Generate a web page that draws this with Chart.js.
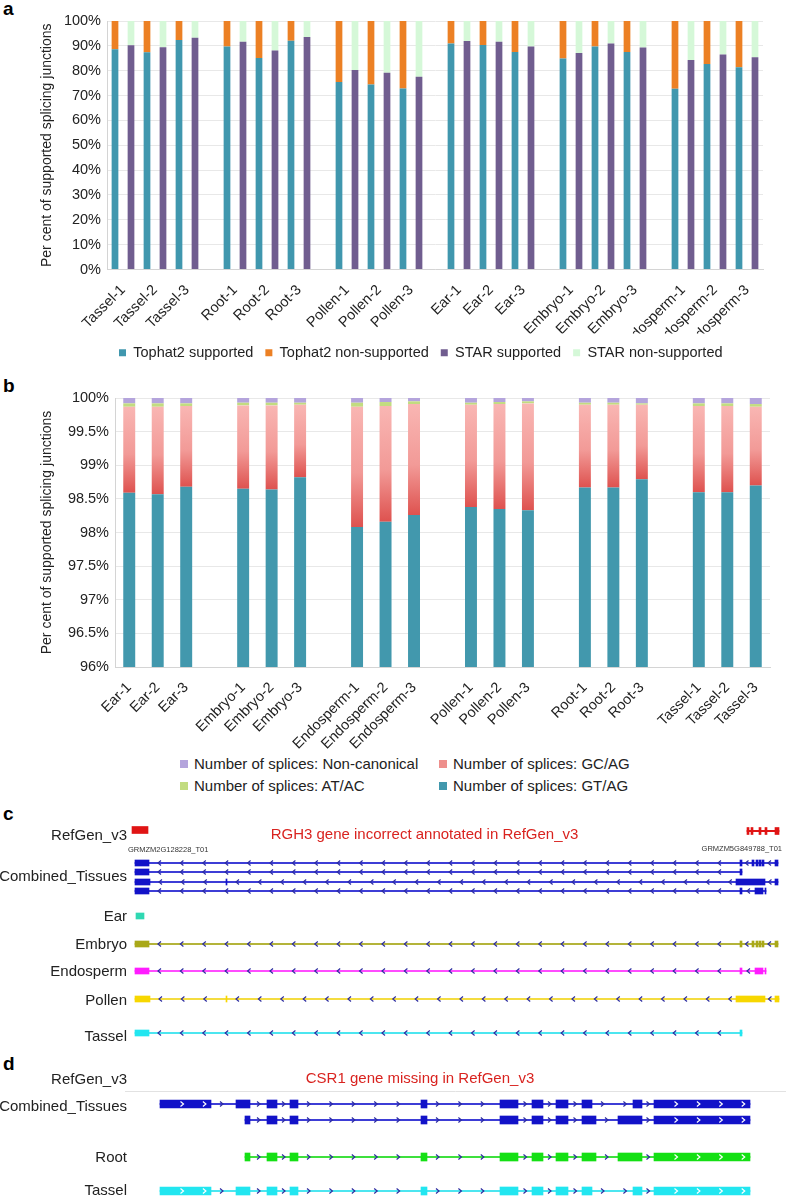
<!DOCTYPE html>
<html><head><meta charset="utf-8">
<script src="https://cdn.jsdelivr.net/npm/chart.js@4.4.1/dist/chart.umd.min.js"></script>
<style>
html,body{margin:0;padding:0;background:#fff;}
body{width:786px;height:1199px;position:relative;overflow:hidden;font-family:"Liberation Sans",Arial,Helvetica,sans-serif;}
.cv{position:absolute;left:0;}
.plabel{position:absolute;left:3px;font-weight:bold;font-size:19px;line-height:19px;color:#000;}
.legitem{position:absolute;font-size:15px;line-height:18px;color:#222;white-space:nowrap;}
.legmark{position:absolute;width:8px;height:8px;}
</style></head>
<body>
<div class="plabel" style="top:-1px">a</div>
<div class="plabel" style="top:376px">b</div>
<div class="plabel" style="top:804px">c</div>
<div class="plabel" style="top:1054px">d</div>
<div class="cv" style="top:0;width:786px;height:372px"><canvas id="chartA"></canvas></div>
<div class="cv" style="top:370px;width:786px;height:380px"><canvas id="chartB"></canvas></div>
<div id="legendB"></div>
<div class="cv" style="top:800px;width:786px;height:260px"><canvas id="chartC"></canvas></div>
<div class="cv" style="top:1040px;width:786px;height:180px"><canvas id="chartD"></canvas></div>
<script>
Chart.defaults.font.family = "'Liberation Sans', Arial, Helvetica, sans-serif";
Chart.defaults.color = '#222';
Chart.defaults.animation = false;
Chart.defaults.responsive = true;
Chart.defaults.maintainAspectRatio = false;

// ================= Panel a data =================
const sampleLabelsA = ['Tassel-1','Tassel-2','Tassel-3','Root-1','Root-2','Root-3','Pollen-1','Pollen-2','Pollen-3','Ear-1','Ear-2','Ear-3','Embryo-1','Embryo-2','Embryo-3','Endosperm-1','Endosperm-2','Endosperm-3'];
const tophatSupported    = [88.6,87.4,92.4, 89.7,85.1,92.1, 75.5,74.4,72.8, 90.9,90.3,87.5, 84.9,89.7,87.5, 72.7,82.7,81.4];
const tophatNonSupported = [11.4,12.6,7.6, 10.3,14.9,7.9, 24.5,25.6,27.2, 9.1,9.7,12.5, 15.1,10.3,12.5, 27.3,17.3,18.6];
const starSupported      = [90.2,89.4,93.3, 91.6,88.1,93.6, 80.3,79.2,77.6, 92.0,91.7,89.7, 87.1,90.9,89.3, 84.3,86.5,85.4];
const starNonSupported   = [9.8,10.6,6.7, 8.4,11.9,6.4, 19.7,20.8,22.4, 8.0,8.3,10.3, 12.9,9.1,10.7, 15.7,13.5,14.6];
const seriesNamesA = ['Tophat2 supported','Tophat2 non-supported','STAR supported','STAR non-supported'];
const yTitle = 'Per cent of supported splicing junctions';

// ================= Panel b data =================
const sampleLabelsB = ['Ear-1','Ear-2','Ear-3','Embryo-1','Embryo-2','Embryo-3','Endosperm-1','Endosperm-2','Endosperm-3','Pollen-1','Pollen-2','Pollen-3','Root-1','Root-2','Root-3','Tassel-1','Tassel-2','Tassel-3'];
const gtag        = [98.59,98.57,98.68, 98.65,98.64,98.82, 98.08,98.16,98.26, 98.38,98.35,98.33, 98.67,98.67,98.79, 98.60,98.60,98.70];
const gcag        = [1.28,1.30,1.20, 1.24,1.25,1.08, 1.79,1.72,1.65, 1.52,1.56,1.59, 1.23,1.23,1.11, 1.28,1.28,1.17];
const atac        = [0.05,0.05,0.04, 0.04,0.04,0.03, 0.06,0.06,0.04, 0.03,0.03,0.03, 0.03,0.03,0.02, 0.04,0.04,0.04];
const nonCanonical= [0.08,0.08,0.08, 0.07,0.07,0.07, 0.07,0.06,0.05, 0.07,0.06,0.05, 0.07,0.07,0.08, 0.08,0.08,0.09];
const seriesNamesB = ['Number of splices: GT/AG','Number of splices: GC/AG','Number of splices: AT/AC','Number of splices: Non-canonical'];

// ================= Panel c data (exon coordinates, x100 bp from region start) =================
const trackNamesC = ['RefGen_v3','Combined_Tissues','Ear','Embryo','Endosperm','Pollen','Tassel'];
const cRefGenA    = [[1,17]];
const cRefGenB    = [[616,618],[620,622],[628,630],[634,636],[644,648]];
const cCombined1  = [[4,18],[609,611],[621,623],[625,627],[628,630],[631,633],[644,647]];
const cCombined2  = [[4,18],[609,611]];
const cCombined3  = [[4,19],[95,96],[605,634],[644,647]];
const cCombined4  = [[4,18],[609,611],[624,632],[634,635]];
const cEar        = [[5,13]];
const cEmbryo     = [[4,18],[609,611],[621,623],[625,627],[628,630],[631,633],[644,647]];
const cEndosperm  = [[4,18],[609,611],[624,632],[634,635]];
const cPollen     = [[4,19],[95,96],[605,634],[644,648]];
const cTassel     = [[4,18],[609,611]];
const cTitle = 'RGH3 gene incorrect annotated in RefGen_v3';
const cGeneIds = ['GRMZM2G128228_T01','GRMZM5G849788_T01'];

// ================= Panel d data =================
const trackNamesD = ['RefGen_v3','Combined_Tissues','Root','Tassel'];
const dCombined1 = [[29,80],[105,119],[136,146],[159,167],[290,296],[369,387],[401,412],[425,437],[451,461],[502,511],[523,619]];
const dCombined2 = [[114,119],[136,146],[159,167],[290,296],[369,387],[401,412],[425,437],[451,465],[487,511],[523,619]];
const dRoot      = [[114,119],[136,146],[159,167],[290,296],[369,387],[401,412],[425,437],[451,465],[487,511],[523,619]];
const dTassel    = [[29,80],[105,119],[136,146],[159,167],[290,296],[369,387],[401,412],[425,437],[451,461],[502,511],[523,619]];
const dTitle = 'CSR1 gene missing in RefGen_v3';

// ================= Panel a chart =================
const colorsA = ['#4097ae','#ec8024','#705d8f','#d5f8d8'];
const groupSize = 3;
function slotA(i, method){ const g = Math.floor(i/groupSize), s = i % groupSize; return g*(2*groupSize+1) + s*2 + method; }
const seriesA = [tophatSupported, tophatNonSupported, starSupported, starNonSupported];
new Chart(document.getElementById('chartA'), {
  type:'bar',
  data:{ datasets: seriesA.map((arr,k)=>({
    label: seriesNamesA[k],
    data: arr.map((v,i)=>({x: slotA(i, k<2?0:1), y: v})),
    backgroundColor: colorsA[k], borderWidth:0,
    barPercentage:0.42, categoryPercentage:1, grouped:false
  }))},
  options:{
    layout:{padding:{left:35,right:23,top:21,bottom:2}},
    plugins:{
      legend:{position:'bottom', align:'start', fullSize:false,
        labels:{boxWidth:7, boxHeight:7, padding:12, font:{size:14.5}, color:'#222'}},
      tooltip:{enabled:false}
    },
    scales:{
      x:{type:'linear', min:-0.5, max:40.5, offset:false, stacked:true, grid:{display:false}, border:{color:'#d4d4d4'},
        afterBuildTicks: s => { s.ticks = sampleLabelsA.map((l,i)=>({value: slotA(i,0)+0.5})); },
        ticks:{autoSkip:false, maxRotation:45, minRotation:45, padding:4, font:{size:14.5}, color:'#222',
          callback:(v,i)=>sampleLabelsA[i]},
        afterFit: s => { s.height = 64; s.paddingLeft = 0; s.paddingRight = 0; }
      },
      y:{stacked:true, min:0, max:100,
        ticks:{stepSize:10, callback:v=>v+'%', font:{size:14.5}, color:'#222', padding:6},
        grid:{color:'#e8e8e8', drawTicks:false}, border:{color:'#d4d4d4'},
        title:{display:true, text:yTitle, font:{size:14}, color:'#222'},
        afterFit: s => { s.width = 72; }
      }
    }
  }
});

// ================= Panel b chart =================
const labelsB = [];
const slotToSample = [];
sampleLabelsB.forEach((l,i)=>{
  if (i>0 && i%groupSize===0){ labelsB.push(''); slotToSample.push(-1); }
  labelsB.push(l); slotToSample.push(i);
});
function toSlotsB(arr){ return slotToSample.map(si => si<0 ? null : arr[si]); }
const colorsB = ['#4298ad','#ee8f8c','#c2dc80','#b4a4dc'];
const gcGradient = (ctx) => {
  if (ctx.type !== 'data') return colorsB[1];
  const chart = ctx.chart; const si = slotToSample[ctx.dataIndex];
  if (!chart.chartArea || si === undefined || si < 0) return colorsB[1];
  const y = chart.scales.y;
  const yb = y.getPixelForValue(gtag[si]); const yt = y.getPixelForValue(gtag[si]+gcag[si]);
  if (!isFinite(yb) || !isFinite(yt) || yb===yt) return colorsB[1];
  const g = chart.ctx.createLinearGradient(0, yt, 0, yb);
  g.addColorStop(0,'#f9b6b3'); g.addColorStop(0.55,'#f29a97'); g.addColorStop(1,'#de524f');
  return g;
};
const seriesB = [gtag, gcag, atac, nonCanonical];
new Chart(document.getElementById('chartB'), {
  type:'bar',
  data:{ labels: labelsB, datasets: seriesB.map((arr,k)=>({
    label: seriesNamesB[k], data: toSlotsB(arr),
    backgroundColor: k===1 ? gcGradient : colorsB[k], borderWidth:0,
    barPercentage:0.42, categoryPercentage:1
  }))},
  options:{
    layout:{padding:{left:35,right:16,top:28,bottom:0}},
    plugins:{legend:{display:false}, tooltip:{enabled:false}},
    scales:{
      x:{stacked:true, grid:{display:false}, border:{color:'#d4d4d4'},
        ticks:{autoSkip:false, maxRotation:45, minRotation:45, padding:4, font:{size:14.5}, color:'#222'},
        afterFit: s => { s.height = 83; s.paddingLeft = 0; s.paddingRight = 0; }
      },
      y:{stacked:true, min:96, max:100,
        ticks:{stepSize:0.5, callback:v=>v+'%', font:{size:14.5}, color:'#222', padding:6},
        grid:{color:'#e8e8e8', drawTicks:false}, border:{color:'#d4d4d4'},
        title:{display:true, text:yTitle, font:{size:14}, color:'#222'},
        afterFit: s => { s.width = 80; }
      }
    }
  }
});

// HTML legend for panel b (2 x 2 grid)
(function(){
  const el = document.getElementById('legendB');
  const order = [[3,1],[2,0]];
  const colX = [[180,194],[439,453]];
  const rowY = [764,786];
  order.forEach((row,r)=>row.forEach((k,c)=>{
    const m = document.createElement('div'); m.className='legmark';
    m.style.left = colX[c][0]+'px'; m.style.top = (rowY[r]-4)+'px'; m.style.background = colorsB[k];
    const t = document.createElement('div'); t.className='legitem';
    t.style.left = colX[c][1]+'px'; t.style.top = (rowY[r]-9)+'px'; t.textContent = seriesNamesB[k];
    el.appendChild(m); el.appendChild(t);
  }));
})();

// ================= Genome browser panels (c, d) =================
function chev(c,x,y,dir,color){
  c.beginPath(); c.strokeStyle=color; c.lineWidth=1.2;
  c.moveTo(x-1.5*dir, y-2.5); c.lineTo(x+1.5*dir, y); c.lineTo(x-1.5*dir, y+2.5); c.stroke();
}
function trackPlugin(transcripts, texts, rules){
  return { id:'tracks', afterDatasetsDraw(chart){
    const c = chart.ctx, xs = chart.scales.x, ys = chart.scales.y;
    c.save();
    (rules||[]).forEach(r=>{
      c.strokeStyle = r.color; c.lineWidth = 1; c.beginPath();
      c.moveTo(r.x0, Math.round(ys.getPixelForValue(r.y))+0.5); c.lineTo(r.x1, Math.round(ys.getPixelForValue(r.y))+0.5); c.stroke();
    });
    transcripts.forEach(t=>{
      if (!t.dir || t.exons.length < 2) return;
      const y = ys.getPixelForValue(t.lane);
      const ex = t.exons.map(e=>[xs.getPixelForValue(e[0]), xs.getPixelForValue(e[1])]);
      for (let k=0;k<ex.length-1;k++){
        const a = ex[k][1], b = ex[k+1][0], len = b-a;
        if (len < 8) continue;
        const pts = [];
        if (len < 20) pts.push((a+b)/2); else for (let p=a+10.5; p<b-5; p+=22.4) pts.push(p);
        pts.forEach(p=>chev(c,p,y,t.dir,t.chev));
      }
      ex.forEach(([a,b])=>{ if (b-a>30) for (let p=a+22; p<b-4; p+=22.4) chev(c,p,y,t.dir,'#ffffff'); });
    });
    texts.forEach(tx=>{
      c.font = tx.font; c.fillStyle = tx.color; c.textAlign = tx.align; c.textBaseline = 'middle';
      c.fillText(tx.text, xs.getPixelForValue(tx.x), ys.getPixelForValue(tx.y));
    });
    c.restore();
  }};
}
function buildTrackDatasets(transcripts){
  const ds = [];
  transcripts.forEach(t=>{
    ds.push({data: t.exons.map(e=>({x:e, y:t.lane})), backgroundColor:t.color, borderWidth:0,
      barThickness:t.h, grouped:false, order:0});
    if (t.exons.length > 1) ds.push({data:[{x:[t.exons[0][0], t.exons[t.exons.length-1][1]], y:t.lane}],
      backgroundColor:t.line, borderWidth:0, barThickness:1.4, grouped:false, order:1});
  });
  return ds;
}
function trackChart(id, transcripts, names, labelLanes, yMax, texts, rules){
  new Chart(document.getElementById(id), {
    type:'bar',
    data:{datasets: buildTrackDatasets(transcripts)},
    options:{
      indexAxis:'y',
      layout:{padding:{left:0,right:3,top:12,bottom:12}},
      plugins:{legend:{display:false}, tooltip:{enabled:false}},
      scales:{
        x:{type:'linear', min:0, max:652, display:false, offset:false},
        y:{type:'linear', min:12, max:yMax, reverse:true, offset:false,
          grid:{display:false, drawTicks:false}, border:{display:false},
          afterBuildTicks: s => { s.ticks = labelLanes.map(v=>({value:v})); },
          ticks:{autoSkip:false, padding:4, font:{size:15}, color:'#222', callback:(v,i)=>names[i]},
          afterFit: s => { s.width = 131; s.paddingTop = 0; s.paddingBottom = 0; }
        }
      }
    },
    plugins:[trackPlugin(transcripts, texts, rules)]
  });
}
// styles / lane layout (pixels from each panel canvas top)
const blue = {color:'#1212c8', line:'#3d3dd6'};
const chevDark = '#2c2ca0';
const transcriptsC = [
  {exons:cRefGenA,   lane:30,  h:7, color:'#e01414', line:'#e01414', dir:0},
  {exons:cRefGenB,   lane:31,  h:7, color:'#e01414', line:'#e01414', dir:0},
  {exons:cCombined1, lane:63,  h:6, ...blue, dir:-1, chev:chevDark},
  {exons:cCombined2, lane:72,  h:6, ...blue, dir:-1, chev:chevDark},
  {exons:cCombined3, lane:82,  h:6, ...blue, dir:-1, chev:chevDark},
  {exons:cCombined4, lane:91,  h:6, ...blue, dir:-1, chev:chevDark},
  {exons:cEar,       lane:116, h:6, color:'#2fd8b2', line:'#2fd8b2', dir:0},
  {exons:cEmbryo,    lane:144, h:6, color:'#a9a818', line:'#b4b43a', dir:-1, chev:chevDark},
  {exons:cEndosperm, lane:171, h:6, color:'#ff1cff', line:'#ff4cff', dir:-1, chev:chevDark},
  {exons:cPollen,    lane:199, h:6, color:'#f7d700', line:'#f4dc40', dir:-1, chev:chevDark},
  {exons:cTassel,    lane:233, h:6, color:'#22e6f0', line:'#4ce6f0', dir:-1, chev:chevDark}
];
const textsC = [
  {text:cTitle, x:293.5, y:35, font:"15px 'Liberation Sans', Arial, sans-serif", color:'#d9231f', align:'center'},
  {text:cGeneIds[0], x:-3, y:50, font:"7.5px 'Liberation Sans', Arial, sans-serif", color:'#333', align:'left'},
  {text:cGeneIds[1], x:651, y:49, font:"7.5px 'Liberation Sans', Arial, sans-serif", color:'#333', align:'right'}
];
trackChart('chartC', transcriptsC, trackNamesC, [36,77,117,145,172,201,237], 248, textsC, []);

const transcriptsD = [
  {exons:dCombined1, lane:64,  h:8, ...blue, dir:1, chev:chevDark},
  {exons:dCombined2, lane:80,  h:8, ...blue, dir:1, chev:chevDark},
  {exons:dRoot,      lane:117, h:8, color:'#14e014', line:'#3ee03e', dir:1, chev:chevDark},
  {exons:dTassel,    lane:151, h:8, color:'#22e6f0', line:'#4ce6f0', dir:1, chev:chevDark}
];
const textsD = [
  {text:dTitle, x:289, y:39, font:"15px 'Liberation Sans', Arial, sans-serif", color:'#d9231f', align:'center'}
];
trackChart('chartD', transcriptsD, trackNamesD, [40,67,118,151], 168, textsD, [{x0:125, x1:786, y:51, color:'#e2e2e2'}]);
</script>
</body></html>
